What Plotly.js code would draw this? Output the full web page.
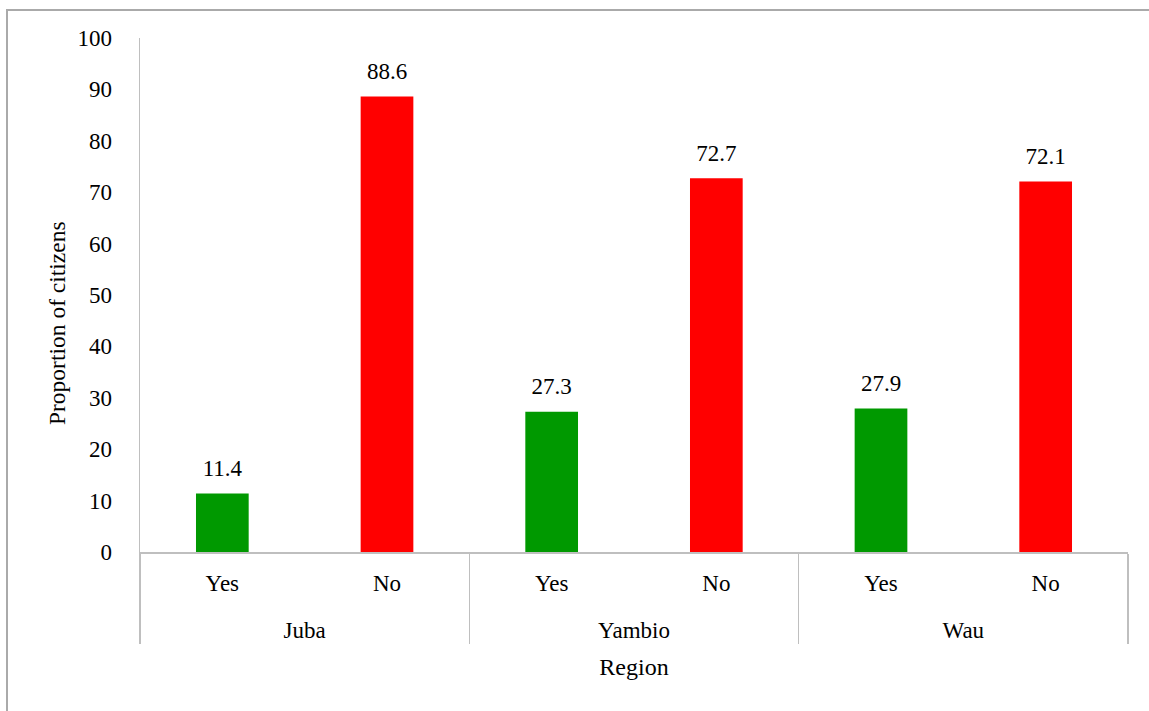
<!DOCTYPE html>
<html>
<head>
<meta charset="utf-8">
<script src="https://cdn.plot.ly/plotly-3.0.1.min.js"></script>
<style>
html,body{margin:0;padding:0;background:#fff;}
#wrap{position:relative;width:1149px;height:711px;overflow:hidden;}
#chart{position:absolute;left:0;top:0;width:1149px;height:711px;}
#frame{position:absolute;left:6px;top:9px;width:1160px;height:720px;border:2px solid #aaaaaa;box-sizing:border-box;pointer-events:none;}
</style>
</head>
<body>
<div id="wrap"><div id="chart"></div><div id="frame"></div></div>
<script>
const regions = ["Juba", "Juba", "Yambio", "Yambio", "Wau", "Wau"];
const answers = ["Yes", "No", "Yes", "No", "Yes", "No"];
const values = [11.4, 88.6, 27.3, 72.7, 27.9, 72.1];
const colorMap = {"Yes": "#009900", "No": "#ff0000"};
const yTicks = [0, 10, 20, 30, 40, 50, 60, 70, 80, 90, 100];
const xTitle = "Region";
const yTitle = "Proportion of citizens";

const FONT = "'Liberation Serif', 'DejaVu Serif', serif";
const FS = 23;

// group labels get an empty line above them so that they sit lower, as in the reference
const regionLabels = regions.map(r => "<br>" + r);

const bars = {
  type: "bar",
  x: [regionLabels, answers],
  y: values,
  marker: {color: answers.map(a => colorMap[a])},
  hoverinfo: "y",
  showlegend: false
};
const labels = {
  type: "scatter",
  mode: "markers+text",
  x: [regionLabels, answers],
  y: values,
  text: values.map(v => v.toFixed(1)),
  textposition: "top center",
  textfont: {family: FONT, size: FS, color: "#000"},
  marker: {size: 17, opacity: 0},
  hoverinfo: "skip",
  cliponaxis: false,
  showlegend: false
};

const layout = {
  width: 1149,
  height: 711,
  margin: {l: 140, r: 21, t: 38, b: 159},
  paper_bgcolor: "#fff",
  plot_bgcolor: "#fff",
  font: {family: FONT, size: FS, color: "#000"},
  bargap: 0.68,
  showlegend: false,
  xaxis: {
    type: "multicategory",
    showline: true,
    linecolor: "#bfbfbf",
    linewidth: 1.5,
    ticks: "",
    showgrid: false,
    showdividers: true,
    dividercolor: "#bfbfbf",
    dividerwidth: 1.5,
    ticklabelstandoff: 10,
    tickfont: {family: FONT, size: FS, color: "#000"},
    title: {text: xTitle, font: {family: FONT, size: 24, color: "#000"}, standoff: 16}
  },
  yaxis: {
    range: [0, 100],
    tickvals: yTicks,
    ticktext: yTicks.map(String),
    showline: true,
    linecolor: "#bfbfbf",
    linewidth: 1.5,
    ticks: "",
    showgrid: false,
    zeroline: false,
    ticklabelstandoff: 22,
    tickfont: {family: FONT, size: FS, color: "#000"}
  },
  annotations: [{
    text: yTitle,
    xref: "paper", yref: "paper",
    x: -0.084, y: 0.4455,
    xanchor: "center", yanchor: "middle",
    textangle: -90,
    showarrow: false,
    font: {family: FONT, size: 23.5, color: "#000"}
  }]
};

Plotly.newPlot("chart", [bars, labels], layout, {displayModeBar: false, staticPlot: true});
</script>
</body>
</html>
